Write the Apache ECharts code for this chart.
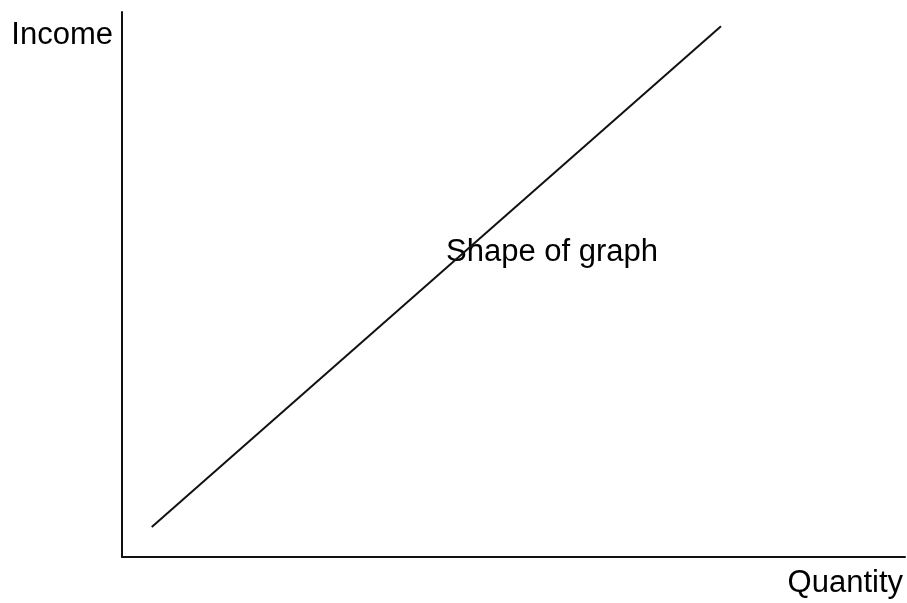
<!DOCTYPE html>
<html lang="en">

<head>
    <meta charset="UTF-8">
    <title>Shape of graph</title>
    <script src="https://cdn.jsdelivr.net/npm/echarts@6/dist/echarts.min.js"></script>
    <style>
        body {
            margin: 0;
            background: #fff;
        }

        #chart {
            width: 907px;
            height: 603px;
        }
    </style>
</head>

<body>
    <div id="chart"></div>

    <script>
        // data: a straight rising line between two points
        const quantity = [3.8, 76.5];
        const income = [5.5, 97.4];
        const xName = 'Quantity';
        const yName = 'Income';
        const note = 'Shape of graph';

        const chart = echarts.init(document.getElementById('chart'));
        const font = '"Liberation Sans", Arial, sans-serif';

        chart.setOption({
            animation: false,
            backgroundColor: '#fff',
            grid: { left: 122, right: 2, top: 12, bottom: 46 },
            xAxis: {
                type: 'value', min: 0, max: 100,
                axisLine: { onZero: false, lineStyle: { color: '#111', width: 2 } },
                axisTick: { show: false }, axisLabel: { show: false }, splitLine: { show: false }
            },
            yAxis: {
                type: 'value', min: 0, max: 100,
                axisLine: { show: true, onZero: false, lineStyle: { color: '#111', width: 2 } },
                axisTick: { show: false }, axisLabel: { show: false }, splitLine: { show: false }
            },
            series: [{
                type: 'line',
                data: quantity.map((q, i) => [q, income[i]]),
                symbol: 'none',
                lineStyle: { color: '#111', width: 2 }
            }],
            graphic: [
                { type: 'text', right: 794, top: 20, style: { text: yName, font: '31px ' + font, fill: '#000' } },
                { type: 'text', right: 4, top: 568, style: { text: xName, font: '31px ' + font, fill: '#000' } },
                { type: 'text', left: 446, top: 237, style: { text: note, font: '31px ' + font, fill: '#000' } }
            ]
        });
    </script>
</body>

</html>
